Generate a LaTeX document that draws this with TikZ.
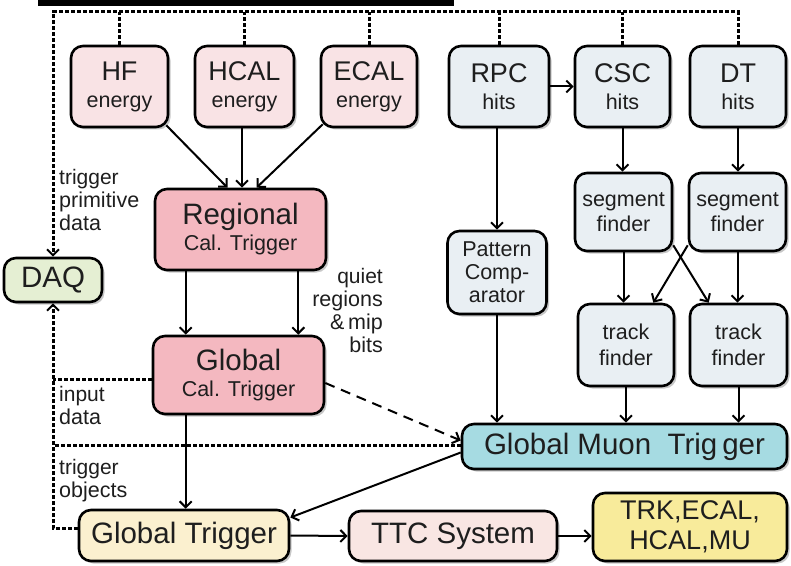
\documentclass[tikz,border=0pt]{standalone}
\usepackage{fontspec}
\setmainfont{Liberation Sans}
\usetikzlibrary{arrows.meta,shadows,calc}

\definecolor{calpink}{HTML}{F9E3E5}
\definecolor{rctpink}{HTML}{F4B8C0}
\definecolor{muongray}{HTML}{E9EFF3}
\definecolor{daqgreen}{HTML}{E5EFD3}
\definecolor{gmtcyan}{HTML}{A6DBE2}
\definecolor{gtyellow}{HTML}{FBF0CF}
\definecolor{ttcpink}{HTML}{F9E6E3}
\definecolor{detyellow}{HTML}{F8EB9B}
\definecolor{ink}{HTML}{1E1E1E}

\newcommand\fsbig{\fontsize{27bp}{29bp}\selectfont}
\newcommand\fssmall{\fontsize{21.5bp}{23bp}\selectfont}
\newcommand\fslarge{\fontsize{29.5bp}{31bp}\selectfont}
\newcommand\fsreg{\fontsize{29.5bp}{31bp}\selectfont}

\tikzset{
  box/.style={draw=black, line width=2.6bp, rounded corners=12bp, align=center,
    inner sep=0pt, text=ink, font=\fssmall,
    drop shadow={shadow xshift=2.5bp, shadow yshift=-2.5bp, fill=black, opacity=0.22}},
  arr/.style={line width=2bp, -{Straight Barb[length=6bp,width=12bp,line width=2bp]}},
  dotline/.style={line width=3bp, dash pattern=on 4bp off 2bp},
  dotarr/.style={dotline, -{Straight Barb[length=6bp,width=12bp,line width=2bp]}},
  dasharr/.style={line width=2bp, dash pattern=on 10bp off 7bp,
    -{Straight Barb[length=6bp,width=12bp,line width=2bp]}},
  lbl/.style={inner sep=0pt, text=ink, font=\fssmall},
}

\begin{document}
\begin{tikzpicture}[x=1bp,y=-1bp]
\useasboundingbox (0,0) rectangle (791,566);

% header bar
\fill[black] (38,0) rectangle (454,6);

% calorimeter trigger primitives
\node[box, fill=calpink, minimum width=97bp, minimum height=81bp] (hf) at (119.5,86.5)
  {{\fsbig HF}\\[4bp]energy};
\node[box, fill=calpink, minimum width=99bp, minimum height=81bp] (hcal) at (244.5,86.5)
  {{\fsbig HCAL}\\[4bp]energy};
\node[box, fill=calpink, minimum width=96bp, minimum height=81bp] (ecal) at (369,86.5)
  {{\fsbig ECAL}\\[4bp]energy};

% muon trigger primitives
\node[box, fill=muongray, minimum width=100bp, minimum height=81bp] (rpc) at (499,86.5)
  {{\fsbig RPC}\\[4bp]hits};
\node[box, fill=muongray, minimum width=95bp, minimum height=81bp] (csc) at (622.5,86.5)
  {{\fsbig CSC}\\[4bp]hits};
\node[box, fill=muongray, minimum width=96bp, minimum height=81bp] (dt) at (738,86.5)
  {{\fsbig DT}\\[4bp]hits};

% calorimeter trigger
\node[box, fill=rctpink, minimum width=171bp, minimum height=81bp] (rct) at (240.5,229.5)
  {{\fsreg Regional}\\[3bp]Cal. Trigger};
\node[box, fill=rctpink, minimum width=171bp, minimum height=78bp] (gct) at (238.5,375)
  {{\fsreg Global}\\[3bp]Cal. Trigger};

% data acquisition
\node[box, fill=daqgreen, minimum width=98bp, minimum height=44bp, font=\fslarge] (daq) at (53,280) {DAQ};

% muon trigger chain
\node[box, fill=muongray, minimum width=97bp, minimum height=78bp] (seg1) at (623.5,212) {segment\\[2bp]finder};
\node[box, fill=muongray, minimum width=97bp, minimum height=78bp] (seg2) at (737.5,212) {segment\\[2bp]finder};
\node[box, fill=muongray, minimum width=99bp, minimum height=83bp] (pc) at (497,272.5) {Pattern\\Comp-\\arator};
\node[box, fill=muongray, minimum width=96bp, minimum height=82bp] (trk1) at (626,345) {track\\[3bp]finder};
\node[box, fill=muongray, minimum width=97bp, minimum height=82bp] (trk2) at (738.5,345) {track\\[3bp]finder};
\node[box, fill=gmtcyan, minimum width=325bp, minimum height=45bp, font=\fslarge] (gmt) at (624.5,446.5) {Global Muon\ \ Trig\,ger};

% global trigger and distribution
\node[box, fill=gtyellow, minimum width=210bp, minimum height=51bp, font=\fslarge] (gt) at (184,535.5) {Global Trigger};
\node[box, fill=ttcpink, minimum width=208bp, minimum height=50bp, font=\fslarge] (ttc) at (453,536) {TTC System};
\node[box, fill=detyellow, minimum width=194bp, minimum height=68bp,
  font={\fontsize{27bp}{30bp}\selectfont}] (det) at (690,527) {TRK,ECAL,\\HCAL,MU};

% labels
\node[lbl, anchor=north west, align=left] (lprim) at (59,169) {\fontsize{21bp}{22.5bp}\selectfont trigger\\primitive\\data};
\node[lbl, anchor=north east, align=right] (lquiet) at (383,268) {\fontsize{21bp}{25.5bp}\selectfont quiet\\regions\\\&\,mip\\bits};
\node[lbl, anchor=north west, align=left] (linput) at (59,386) {\fontsize{21bp}{26bp}\selectfont input\\data};
\node[lbl, anchor=north west, align=left] (lobj) at (59,459) {\fontsize{21bp}{25bp}\selectfont trigger\\objects};

% readout of trigger primitives to DAQ
\coordinate (tl) at (53,12);
\draw[dotarr] (dt.north) |- (tl) -- (daq.north);
\foreach \n in {hf,hcal,ecal,rpc,csc}
  \draw[dotline] (\n.north) -- (\n.north |- tl);

% calorimeter flow
\draw[arr] ([shift={(-3bp,3bp)}]hf.south east) -- ([xshift=-13bp]rct.north);
\draw[arr] (hcal.south -| 242,0) -- (242,0 |- rct.north);
\draw[arr] ([shift={(3bp,4bp)}]ecal.south west) -- ([xshift=16bp]rct.north);
\path ([xshift=32bp]rct.south west) coordinate (ra) ([xshift=-29bp]rct.south east) coordinate (rb);
\draw[arr] (ra) -- (ra |- gct.north);
\draw[arr] (rb) -- (rb |- gct.north);
\path ([xshift=34bp]gct.south west) coordinate (ga);
\draw[arr] (ga) -- (ga |- gt.north);

% input data and trigger objects to DAQ
\coordinate (gin) at ([yshift=-4bp]gct.west);
\draw[dotline] (gin) -- (gin -| daq.south);
\draw[dotline] ([yshift=1bp]gmt.west) -- ([yshift=1bp]gmt.west -| daq.south);
\draw[dotarr] ([yshift=7bp]gt.west) -| (daq.south);

% calorimeter information to the muon trigger
\draw[dasharr] ([yshift=-8bp]gct.east) -- ([yshift=6bp]gmt.west);

% muon flow
\draw[arr] (rpc.east) -- (csc.west);
\draw[arr] (rpc.south -| pc.north) -- (pc.north);
\draw[arr] (pc.south) -- (pc.south |- gmt.north);
\draw[arr] (csc.south) -- (csc.south |- seg1.north);
\draw[arr] (dt.south) -- (dt.south |- seg2.north);
\draw[arr] (seg1.south) -- (seg1.south |- trk1.north);
\draw[arr] (seg2.south) -- (seg2.south |- trk2.north);
\draw[arr] ([yshift=7bp]seg1.south east) -- ([xshift=20bp]trk2.north west);
\draw[arr] ([yshift=7bp]seg2.south west) -- ([xshift=-22bp]trk1.north east);
\draw[arr] (trk1.south) -- (trk1.south |- gmt.north);
\draw[arr] (trk2.south) -- (trk2.south |- gmt.north);

% global decision and distribution
\draw[arr] ([yshift=-6bp]gmt.west) -- ([yshift=18bp]gt.east);
\draw[arr] (gt.east) -- (ttc.west);
\draw[arr] (ttc.east) -- (ttc.east -| det.west);
\end{tikzpicture}
\end{document}
